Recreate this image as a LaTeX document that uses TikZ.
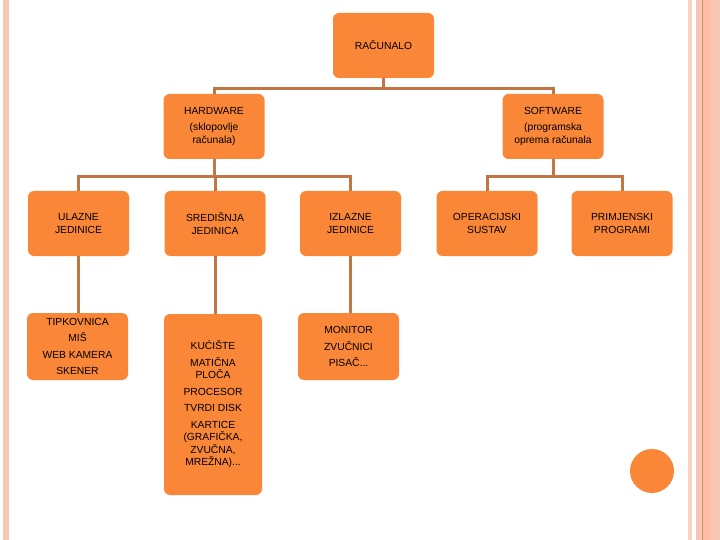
\documentclass[tikz,border=0pt]{standalone}
\usepackage{fontspec}
\setmainfont{Liberation Sans}
\usepackage{tikz}
\usetikzlibrary{positioning}
\definecolor{boxorange}{RGB}{250,135,55}
\definecolor{linebrown}{RGB}{194,118,68}
\definecolor{stripe}{RGB}{247,198,180}
\definecolor{stripedark}{RGB}{252,188,165}
\definecolor{stripeline}{RGB}{222,140,105}

\begin{document}
\begin{tikzpicture}[
  x=1pt,y=-1pt,
  bx/.style={fill=boxorange,rounded corners=6pt,minimum width=101pt,minimum height=65pt,
             inner sep=0pt,align=center,font=\fontsize{10.3}{12.5}\selectfont},
  ln/.style={draw=linebrown,line width=3pt}
]
  \useasboundingbox (0,0) rectangle (720,540);
  % page stripes
  \fill[stripe] (3,0) rectangle (9,540);
  \fill[stripe!80] (688,0) rectangle (692,540);
  \fill[stripe] (696,0) rectangle (702,540);
  \fill[stripedark] (702,0) rectangle (710,540);
  \fill[stripe] (710,0) rectangle (720,540);
  \draw[stripeline,line width=0.8pt] (702.5,0) -- (702.5,540);

  % tree
  \node[bx] (rac) at (383.5,45.5)  {RAČUNALO};
  \node[bx] (hw)  at (214,126.5)   {HARDWARE\\[3.5pt](sklopovlje\\računala)};
  \node[bx] (sw)  at (553,126.5)   {SOFTWARE\\[3.5pt](programska\\oprema računala};

  \node[bx] (ul)  at (78.5,223.5)  {ULAZNE\\JEDINICE};
  \node[bx] (sr)  at (215,223.5)   {SREDIŠNJA\\JEDINICA};
  \node[bx] (iz)  at (350.5,223.5) {IZLAZNE\\JEDINICE};
  \node[bx] (os)  at (487,223.5)   {OPERACIJSKI\\SUSTAV};
  \node[bx] (pp)  at (622,223.5)   {PRIMJENSKI\\PROGRAMI};

  \node[bx,minimum height=67pt] (ulx) at (77.5,346.5)
    {TIPKOVNICA\\[4pt]MIŠ\\[4pt]WEB KAMERA\\[4pt]SKENER};
  \node[bx,minimum width=98pt,minimum height=181pt] (srx) at (213,404.5)
    {KUĆIŠTE\\[4pt]MATIČNA\\PLOČA\\[4pt]PROCESOR\\[4pt]TVRDI DISK\\[4pt]KARTICE\\(GRAFIČKA,\\ZVUČNA,\\MREŽNA)...};
  \node[bx,minimum height=67pt] (izx) at (348.5,346.5)
    {MONITOR\\[4pt]ZVUČNICI\\[4pt]PISAČ...};

  \node[circle,fill=boxorange,minimum size=44pt,inner sep=0pt] (dot) at (652,471) {};

  % connectors
  \draw[ln] (rac.south) -- ++(0,10) -| (hw.north);
  \draw[ln] (rac.south) -- ++(0,10) -| (sw.north);
  \draw[ln] (hw.south) -- ++(0,17) -| (ul.north);
  \draw[ln] (hw.south) -- ++(0,17) -| (sr.north);
  \draw[ln] (hw.south) -- ++(0,17) -| (iz.north);
  \draw[ln] (sw.south) -- ++(0,17) -| (os.north);
  \draw[ln] (sw.south) -- ++(0,17) -| (pp.north);
  \draw[ln] (ul.south) -- (ul.south |- ulx.north);
  \draw[ln] (sr.south) -- (sr.south |- srx.north);
  \draw[ln] (iz.south) -- (iz.south |- izx.north);
\end{tikzpicture}
\end{document}
